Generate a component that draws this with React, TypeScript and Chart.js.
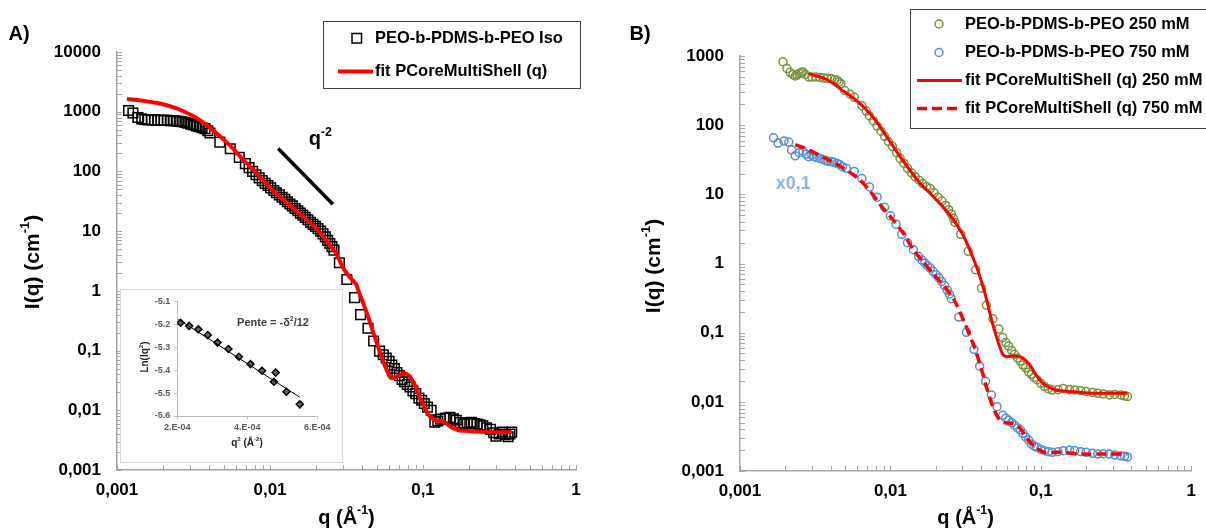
import React, { useEffect, useRef } from 'react';
import { Chart, registerables } from 'chart.js';
Chart.register(...registerables);

const FONT = '"Liberation Sans", Arial, sans-serif';

// ---------- Panel A data ----------
const isoQ = [0.00119, 0.00127, 0.00137, 0.00145, 0.00152, 0.0016, 0.00168, 0.00176, 0.00185, 0.00194, 0.00203, 0.00213, 0.00223, 0.00233, 0.00244, 0.00255, 0.00266, 0.00278, 0.0029, 0.00303, 0.00316, 0.0033, 0.00345, 0.0036, 0.00376, 0.00392, 0.00405, 0.0047, 0.0055, 0.0063, 0.0069, 0.0073, 0.0077, 0.0081, 0.0085, 0.0089, 0.0093, 0.0097, 0.0101, 0.0106, 0.011, 0.0115, 0.012, 0.0125, 0.013, 0.0135, 0.014, 0.0146, 0.0152, 0.0158, 0.0164, 0.017, 0.0177, 0.0184, 0.0191, 0.0198, 0.0206, 0.0214, 0.0222, 0.023, 0.0238, 0.0246, 0.0254, 0.0262, 0.0284, 0.0318, 0.0357, 0.0391, 0.0437, 0.0476, 0.052, 0.055, 0.0575, 0.06, 0.0625, 0.065, 0.0675, 0.07, 0.073, 0.0758, 0.079, 0.0823, 0.086, 0.0897, 0.094, 0.098, 0.102, 0.107, 0.113, 0.1195, 0.125, 0.13, 0.14, 0.15, 0.158, 0.165, 0.175, 0.185, 0.195, 0.207, 0.216, 0.226, 0.236, 0.246, 0.26, 0.276, 0.29, 0.3, 0.315, 0.33, 0.345, 0.36, 0.37, 0.38];
const isoI = [1050, 950, 800, 760, 740, 730, 725, 730, 720, 725, 715, 720, 705, 710, 700, 690, 680, 660, 640, 620, 600, 580, 560, 540, 520, 480, 440, 310, 240, 172, 135, 116, 100, 88, 78, 70, 63, 58, 53, 48, 44, 40.5, 37, 34, 31, 28.5, 26.5, 24, 22, 20, 18.5, 17, 15.5, 14, 13, 12, 11, 10, 9, 8, 7, 6.2, 5.5, 4.8, 2.96, 1.55, 0.77, 0.4, 0.236, 0.145, 0.098, 0.085, 0.075, 0.066, 0.057, 0.05, 0.043, 0.038, 0.033, 0.03, 0.027, 0.0246, 0.021, 0.019, 0.016, 0.0147, 0.013, 0.0113, 0.01, 0.0063, 0.0066, 0.0071, 0.0074, 0.0076, 0.0072, 0.0068, 0.0062, 0.0059, 0.0061, 0.0063, 0.006, 0.0059, 0.0057, 0.0055, 0.0051, 0.0048, 0.0042, 0.0037, 0.004, 0.0043, 0.0039, 0.0036, 0.004, 0.0043];
const fitIsoQ = [0.00116, 0.00135, 0.00154, 0.0018, 0.00206, 0.0024, 0.00274, 0.0031, 0.00346, 0.00385, 0.00423, 0.0047, 0.00518, 0.00566, 0.00616, 0.0067, 0.00731, 0.008, 0.00868, 0.0095, 0.0103, 0.0113, 0.0123, 0.0134, 0.0146, 0.016, 0.0173, 0.019, 0.0206, 0.0222, 0.0238, 0.0253, 0.0268, 0.0284, 0.03, 0.0318, 0.0336, 0.0352, 0.0367, 0.038, 0.0395, 0.0411, 0.043, 0.045, 0.047, 0.049, 0.0512, 0.0536, 0.056, 0.0585, 0.0605, 0.062, 0.065, 0.068, 0.072, 0.0758, 0.079, 0.0823, 0.086, 0.0897, 0.094, 0.098, 0.104, 0.11, 0.117, 0.1235, 0.131, 0.1385, 0.146, 0.155, 0.165, 0.175, 0.2, 0.22, 0.25, 0.29, 0.33, 0.38];
const fitIsoI = [1640, 1570, 1500, 1410, 1310, 1160, 1010, 860, 728, 600, 490, 390, 310, 250, 196, 155, 124, 98, 78, 62, 49.5, 40, 33.4, 27.5, 22.5, 18.5, 15.6, 12.6, 10.2, 8.2, 6.5, 5.3, 4.4, 3.3, 2.43, 1.95, 1.64, 1.45, 1.26, 0.97, 0.75, 0.575, 0.42, 0.3, 0.21, 0.155, 0.11, 0.08, 0.058, 0.0447, 0.037, 0.0345, 0.035, 0.0367, 0.04, 0.0418, 0.04, 0.0367, 0.03, 0.0248, 0.018, 0.0138, 0.0103, 0.0081, 0.0071, 0.0067, 0.0066, 0.0063, 0.0057, 0.0051, 0.0048, 0.0046, 0.0045, 0.0044, 0.00435, 0.0043, 0.0043, 0.0043];
const guideQ = [0.0113, 0.02576];
const guideI = [243, 28.1];
const guideLabelPos = [0.0213, 337];

// ---------- Inset data ----------
const insetQ2 = [2.095e-4, 2.34e-4, 2.6e-4, 2.87e-4, 3.15e-4, 3.46e-4, 3.76e-4, 4.09e-4, 4.42e-4, 4.81e-4, 4.76e-4, 5.12e-4, 5.5e-4];
const insetLn = [-5.192, -5.206, -5.221, -5.246, -5.279, -5.307, -5.341, -5.373, -5.402, -5.41, -5.45, -5.494, -5.549];
const insetFitQ2 = [2.03e-4, 5.5e-4];
const insetFitLn = [-5.177, -5.518];
const insetXTicks = [2e-4, 4e-4, 6e-4];
const insetXLabels = ['2.E-04', '4.E-04', '6.E-04'];
const insetYTicks = [-5.6, -5.5, -5.4, -5.3, -5.2, -5.1];
const insetYLabels = ['-5.6', '-5.5', '-5.4', '-5.3', '-5.2', '-5.1'];

// ---------- Panel B data ----------
const q250 = [0.00193, 0.00205, 0.00215, 0.00225, 0.00233, 0.0024, 0.00247, 0.00255, 0.00262, 0.00272, 0.00286, 0.003, 0.0032, 0.0034, 0.0036, 0.0038, 0.00405, 0.00425, 0.00442, 0.00455, 0.00468, 0.00497, 0.0054, 0.00575, 0.00646, 0.0069, 0.00725, 0.0077, 0.00815, 0.00865, 0.00915, 0.0097, 0.0103, 0.011, 0.0116, 0.0123, 0.013, 0.0138, 0.0146, 0.0155, 0.0164, 0.0174, 0.0184, 0.0195, 0.0207, 0.022, 0.0233, 0.0244, 0.0254, 0.0262, 0.0269, 0.0293, 0.0329, 0.0369, 0.0403, 0.0435, 0.048, 0.0526, 0.0558, 0.0585, 0.061, 0.064, 0.0667, 0.07, 0.073, 0.076, 0.0793, 0.083, 0.0865, 0.09, 0.0943, 0.1, 0.106, 0.112, 0.119, 0.13, 0.141, 0.155, 0.168, 0.184, 0.2, 0.22, 0.239, 0.26, 0.285, 0.31, 0.34, 0.36, 0.376];
const i250 = [826, 660, 580, 540, 514, 530, 557, 575, 589, 540, 498, 495, 498, 490, 480, 475, 470, 455, 445, 420, 398, 317, 280, 253, 191, 160, 136, 115, 97, 82, 69, 58, 49.5, 40, 33, 28, 23.8, 20.5, 18, 16, 14.3, 13, 12.1, 10.5, 9.1, 8, 6.9, 6, 5.2, 4.5, 3.93, 2.64, 1.5, 0.81, 0.44, 0.249, 0.159, 0.113, 0.085, 0.072, 0.064, 0.055, 0.0487, 0.043, 0.0389, 0.034, 0.031, 0.027, 0.0248, 0.0225, 0.0209, 0.0185, 0.0166, 0.0155, 0.0148, 0.015, 0.0156, 0.015, 0.0148, 0.0145, 0.0141, 0.0137, 0.0133, 0.013, 0.0126, 0.0128, 0.0126, 0.0122, 0.0119];
const q750 = [0.00167, 0.00179, 0.00196, 0.00211, 0.0022, 0.00233, 0.00247, 0.00262, 0.00275, 0.00286, 0.003, 0.00311, 0.00325, 0.0034, 0.00355, 0.0037, 0.00385, 0.00405, 0.0042, 0.00442, 0.0046, 0.0048, 0.0051, 0.00575, 0.00646, 0.00725, 0.00815, 0.00915, 0.01, 0.0109, 0.0119, 0.013, 0.0142, 0.0154, 0.0162, 0.0169, 0.0176, 0.0184, 0.0192, 0.0201, 0.021, 0.0219, 0.0229, 0.0239, 0.0247, 0.0254, 0.0285, 0.032, 0.0359, 0.0392, 0.0429, 0.0469, 0.0511, 0.0558, 0.0585, 0.061, 0.064, 0.0667, 0.07, 0.073, 0.076, 0.0793, 0.083, 0.0865, 0.09, 0.0943, 0.1, 0.106, 0.112, 0.119, 0.13, 0.141, 0.155, 0.168, 0.184, 0.2, 0.22, 0.239, 0.26, 0.285, 0.31, 0.34, 0.36, 0.376];
const i750 = [65.6, 55, 59, 57, 44, 36, 40, 42, 38, 35, 37, 35, 34, 33, 32, 31, 30, 29.8, 29, 28, 27, 25, 23.8, 21.4, 17, 12.8, 9.1, 6.5, 4.9, 3.7, 2.64, 2, 1.58, 1.27, 1.12, 1.02, 0.93, 0.86, 0.77, 0.69, 0.62, 0.55, 0.48, 0.41, 0.36, 0.31, 0.168, 0.101, 0.0575, 0.0328, 0.0198, 0.0126, 0.0085, 0.0064, 0.0058, 0.0054, 0.005, 0.0046, 0.0042, 0.0039, 0.0035, 0.0031, 0.0028, 0.00246, 0.0023, 0.0022, 0.00205, 0.00197, 0.0019, 0.00186, 0.0019, 0.00197, 0.002, 0.00197, 0.0019, 0.00186, 0.0018, 0.00176, 0.00178, 0.00176, 0.0017, 0.00166, 0.00163, 0.0016];
const fit250Q = [0.00286, 0.0032, 0.0036, 0.00405, 0.0048, 0.00575, 0.00685, 0.00815, 0.00973, 0.0116, 0.013, 0.0154, 0.0184, 0.0219, 0.026, 0.0302, 0.034, 0.0383, 0.0428, 0.0468, 0.0512, 0.0558, 0.0591, 0.0667, 0.075, 0.084, 0.0943, 0.106, 0.126, 0.159, 0.212, 0.285, 0.376];
const fit250I = [557, 515, 480, 420, 317, 240, 171, 109, 62, 35, 25, 15.2, 10.3, 6.9, 4.4, 2.64, 1.5, 0.77, 0.35, 0.159, 0.081, 0.0487, 0.045, 0.046, 0.0436, 0.0347, 0.0234, 0.0177, 0.0148, 0.0141, 0.0133, 0.0133, 0.0133];
const fit750Q = [0.00233, 0.00286, 0.0035, 0.0043, 0.0051, 0.0061, 0.00725, 0.00863, 0.0103, 0.0123, 0.0142, 0.0164, 0.0195, 0.0233, 0.0269, 0.031, 0.0359, 0.0403, 0.044, 0.048, 0.0526, 0.0575, 0.0646, 0.073, 0.0816, 0.0916, 0.106, 0.133, 0.19, 0.27, 0.376];
const fit750I = [52.5, 44, 35, 28, 22.4, 17, 11.4, 6.9, 4.4, 2.64, 1.58, 1.08, 0.69, 0.44, 0.28, 0.141, 0.0645, 0.0295, 0.0149, 0.0085, 0.0057, 0.005, 0.0049, 0.0041, 0.0029, 0.0022, 0.00186, 0.00186, 0.00176, 0.00176, 0.00176];
const scaleLabelPos = [0.00226, 14.3];

// ---------- Ticks / text ----------
const xTicks = [0.001, 0.01, 0.1, 1];
const xLabels = ['0,001', '0,01', '0,1', '1'];
const yTicksA = [0.001, 0.01, 0.1, 1, 10, 100, 1000, 10000];
const yLabelsA = ['0,001', '0,01', '0,1', '1', '10', '100', '1000', '10000'];
const yTicksB = [0.001, 0.01, 0.1, 1, 10, 100, 1000];
const yLabelsB = ['0,001', '0,01', '0,1', '1', '10', '100', '1000'];
const legendA = ['PEO-b-PDMS-b-PEO Iso', 'fit PCoreMultiShell (q)'];
const legendB = ['PEO-b-PDMS-b-PEO 250 mM', 'PEO-b-PDMS-b-PEO 750 mM', 'fit PCoreMultiShell (q) 250 mM', 'fit PCoreMultiShell (q) 750 mM'];

type Seg = { t: string; sup?: boolean };
const yTitle: Seg[] = [{ t: 'I(q) (cm' }, { t: '-1', sup: true }, { t: ')' }];
const xTitle: Seg[] = [{ t: 'q (Å' }, { t: '-1', sup: true }, { t: ')' }];
const guideText: Seg[] = [{ t: 'q' }, { t: '-2', sup: true }];
const insetXTitle: Seg[] = [{ t: 'q' }, { t: '2', sup: true }, { t: ' (Å' }, { t: '-2', sup: true }, { t: ')' }];
const insetYTitle: Seg[] = [{ t: 'Ln(Iq' }, { t: '2', sup: true }, { t: ')' }];
const insetNote: Seg[] = [{ t: 'Pente = -δ' }, { t: '2', sup: true }, { t: '/12' }];

const RED = '#FF0000';
const GREEN = '#77933C';
const BLUE = '#558ED5';
const AXIS = '#a6a6a6';
const LEG = 16.5;

const pts = (xs: number[], ys: number[]) => xs.map((x, i) => ({ x, y: ys[i] }));

function drawRich(ctx: CanvasRenderingContext2D, segs: Seg[], x: number, y: number, size: number, color: string, rotate = false, align: 'center' | 'left' = 'center') {
  ctx.save();
  ctx.translate(x, y);
  if (rotate) ctx.rotate(-Math.PI / 2);
  ctx.fillStyle = color;
  ctx.textBaseline = 'middle';
  ctx.textAlign = 'left';
  const supSize = size * 0.62;
  const widths = segs.map((s) => {
    ctx.font = `bold ${s.sup ? supSize : size}px ${FONT}`;
    return ctx.measureText(s.t).width;
  });
  const total = widths.reduce((a, b) => a + b, 0);
  let cx = align === 'center' ? -total / 2 : 0;
  segs.forEach((s, i) => {
    ctx.font = `bold ${s.sup ? supSize : size}px ${FONT}`;
    ctx.fillText(s.t, cx, s.sup ? -size * 0.36 : 0);
    cx += widths[i];
  });
  ctx.restore();
}

function drawLogTicks(chart: any) {
  const ctx = chart.ctx;
  const a = chart.chartArea;
  ctx.save();
  ctx.strokeStyle = AXIS;
  ctx.lineWidth = 1;
  ['x', 'y'].forEach((id) => {
    const sc = chart.scales[id];
    const lo = Math.round(Math.log10(sc.min));
    const hi = Math.round(Math.log10(sc.max));
    for (let e = lo; e <= hi; e++) {
      for (let k = 1; k <= 9; k++) {
        if (e === hi && k > 1) break;
        const p = Math.round(sc.getPixelForValue(k * Math.pow(10, e))) + 0.5;
        ctx.beginPath();
        if (id === 'x') {
          ctx.moveTo(p, a.bottom);
          ctx.lineTo(p, a.bottom - 5);
        } else {
          ctx.moveTo(a.left, p);
          ctx.lineTo(a.left + 5, p);
        }
        ctx.stroke();
      }
    }
  });
  ctx.restore();
}

function logAxis(min: number, max: number, ticks: number[], labels: string[], isX: boolean, size: number) {
  return {
    type: 'logarithmic',
    min,
    max,
    position: isX ? 'bottom' : 'left',
    grid: { display: false, drawTicks: false },
    border: { display: true, color: AXIS, width: 1.5 },
    ticks: {
      autoSkip: false,
      maxRotation: 0,
      padding: isX ? 10 : 16,
      color: '#000',
      font: { family: FONT, size: 17, weight: 'bold' },
      callback: (_v: any, i: number) => labels[i],
    },
    afterBuildTicks: (s: any) => {
      s.ticks = ticks.map((v) => ({ value: v }));
    },
    afterFit: (s: any) => {
      if (isX) s.height = size;
      else s.width = size;
    },
  };
}

function makeA(canvas: HTMLCanvasElement) {
  const deco = {
    id: 'decoA',
    afterDraw(chart: any) {
      const ctx = chart.ctx;
      drawLogTicks(chart);
      const a = chart.chartArea;
      const xs = chart.scales.x;
      const ys = chart.scales.y;
      drawRich(ctx, yTitle, 33, 262, 21, '#000', true);
      drawRich(ctx, xTitle, (a.left + a.right) / 2, 518, 20, '#000');
      drawRich(ctx, [{ t: 'A)' }], 19, 34, 20, '#000');
      drawRich(ctx, guideText, xs.getPixelForValue(guideLabelPos[0]), ys.getPixelForValue(guideLabelPos[1]), 20, '#000');
      // legend
      ctx.save();
      ctx.strokeStyle = '#404040';
      ctx.lineWidth = 1;
      ctx.strokeRect(323.5, 21.5, 257, 67);
      ctx.strokeStyle = '#000';
      ctx.lineWidth = 1.5;
      ctx.strokeRect(352, 33.5, 9.5, 9.5);
      ctx.strokeStyle = RED;
      ctx.lineWidth = 4;
      ctx.beginPath();
      ctx.moveTo(338, 71.5);
      ctx.lineTo(373, 71.5);
      ctx.stroke();
      ctx.restore();
      drawRich(ctx, [{ t: legendA[0] }], 375, 38.5, LEG, '#000', false, 'left');
      drawRich(ctx, [{ t: legendA[1] }], 375, 71.5, LEG, '#000', false, 'left');
    },
  };
  return new Chart(canvas, {
    type: 'scatter',
    data: {
      datasets: [
        { data: pts(guideQ, guideI), showLine: true, borderColor: '#000', borderWidth: 3.5, pointRadius: 0, order: 0 },
        { data: pts(fitIsoQ, fitIsoI), showLine: true, borderColor: RED, borderWidth: 4, pointRadius: 0, tension: 0.3, order: 1 },
        { data: pts(isoQ, isoI), pointStyle: 'rect', pointRadius: 6.8, borderColor: '#000', backgroundColor: 'rgba(0,0,0,0)', borderWidth: 1.5, order: 2 },
      ],
    },
    options: {
      animation: false,
      responsive: false,
      events: [],
      layout: { padding: { left: 0, top: 52, right: 24, bottom: 0 } },
      plugins: { legend: { display: false }, tooltip: { enabled: false } },
      scales: {
        x: logAxis(0.001, 1, xTicks, xLabels, true, 61),
        y: logAxis(0.001, 10000, yTicksA, yLabelsA, false, 117),
      },
    } as any,
    plugins: [deco],
  } as any);
}

function makeB(canvas: HTMLCanvasElement) {
  const deco = {
    id: 'decoB',
    afterDraw(chart: any) {
      const ctx = chart.ctx;
      drawLogTicks(chart);
      const a = chart.chartArea;
      const xs = chart.scales.x;
      const ys = chart.scales.y;
      drawRich(ctx, yTitle, 54, 266, 21, '#000', true);
      drawRich(ctx, xTitle, (a.left + a.right) / 2, 518, 20, '#000');
      drawRich(ctx, [{ t: 'B)' }], 40, 34, 20, '#000');
      drawRich(ctx, [{ t: 'x0,1' }], xs.getPixelForValue(scaleLabelPos[0]), ys.getPixelForValue(scaleLabelPos[1]), 18, '#8DB4E2');
      ctx.save();
      ctx.strokeStyle = '#404040';
      ctx.lineWidth = 1;
      ctx.strokeRect(310.5, 9.5, 320, 119);
      ctx.lineWidth = 1.5;
      ctx.strokeStyle = GREEN;
      ctx.beginPath();
      ctx.arc(339, 24, 4, 0, Math.PI * 2);
      ctx.stroke();
      ctx.strokeStyle = BLUE;
      ctx.beginPath();
      ctx.arc(339, 52.5, 4, 0, Math.PI * 2);
      ctx.stroke();
      ctx.strokeStyle = RED;
      ctx.lineWidth = 3;
      ctx.beginPath();
      ctx.moveTo(317, 80.5);
      ctx.lineTo(362, 80.5);
      ctx.stroke();
      ctx.lineWidth = 3.5;
      ctx.setLineDash([10, 5]);
      ctx.beginPath();
      ctx.moveTo(317, 108.5);
      ctx.lineTo(362, 108.5);
      ctx.stroke();
      ctx.restore();
      const ys2 = [24, 52.5, 80.5, 108.5];
      legendB.forEach((t, i) => drawRich(ctx, [{ t }], 365, ys2[i], LEG, '#000', false, 'left'));
    },
  };
  return new Chart(canvas, {
    type: 'scatter',
    data: {
      datasets: [
        { data: pts(fit250Q, fit250I), showLine: true, borderColor: RED, borderWidth: 3, pointRadius: 0, tension: 0.3, order: 0 },
        { data: pts(fit750Q, fit750I), showLine: true, borderColor: RED, borderWidth: 3.5, borderDash: [10, 5], pointRadius: 0, tension: 0.3, order: 1 },
        { data: pts(q250, i250), pointStyle: 'circle', pointRadius: 4, borderColor: GREEN, backgroundColor: 'rgba(0,0,0,0)', borderWidth: 1.5, order: 2 },
        { data: pts(q750, i750), pointStyle: 'circle', pointRadius: 4, borderColor: BLUE, backgroundColor: 'rgba(0,0,0,0)', borderWidth: 1.5, order: 3 },
      ],
    },
    options: {
      animation: false,
      responsive: false,
      events: [],
      layout: { padding: { left: 0, top: 56, right: 8, bottom: 0 } },
      plugins: { legend: { display: false }, tooltip: { enabled: false } },
      scales: {
        x: logAxis(0.001, 1, xTicks, xLabels, true, 60),
        y: logAxis(0.001, 1000, yTicksB, yLabelsB, false, 140),
      },
    } as any,
    plugins: [deco],
  } as any);
}

function makeInset(canvas: HTMLCanvasElement) {
  const deco = {
    id: 'decoInset',
    afterDraw(chart: any) {
      const ctx = chart.ctx;
      drawRich(ctx, insetYTitle, 24, 67, 10, '#262626', true);
      drawRich(ctx, insetXTitle, 126, 153, 10, '#262626');
      drawRich(ctx, insetNote, 152, 33, 11, '#404040');
    },
  };
  const lin = (min: number, max: number, ticks: number[], labels: string[], isX: boolean, size: number) => ({
    type: 'linear',
    min,
    max,
    position: isX ? 'bottom' : 'left',
    grid: { display: true, drawOnChartArea: false, drawTicks: true, tickLength: 3, color: '#bfbfbf' },
    border: { display: true, color: '#bfbfbf', width: 1 },
    ticks: {
      autoSkip: false,
      maxRotation: 0,
      padding: isX ? 3 : 4,
      color: '#595959',
      font: { family: FONT, size: 9, weight: 'bold' },
      callback: (_v: any, i: number) => labels[i],
    },
    afterBuildTicks: (s: any) => {
      s.ticks = ticks.map((v) => ({ value: v }));
    },
    afterFit: (s: any) => {
      if (isX) s.height = size;
      else s.width = size;
    },
  });
  return new Chart(canvas, {
    type: 'scatter',
    data: {
      datasets: [
        { data: pts(insetFitQ2, insetFitLn), showLine: true, borderColor: '#000', borderWidth: 1, pointRadius: 0, order: 0 },
        { data: pts(insetQ2, insetLn), pointStyle: 'rectRot', pointRadius: 3.5, borderColor: '#000', backgroundColor: '#666', borderWidth: 1.5, order: 1 },
      ],
    },
    options: {
      animation: false,
      responsive: false,
      events: [],
      layout: { padding: { left: 0, top: 11.7, right: 24.7, bottom: 0 } },
      plugins: { legend: { display: false }, tooltip: { enabled: false } },
      scales: {
        x: lin(2e-4, 6e-4, insetXTicks, insetXLabels, true, 46),
        y: lin(-5.6, -5.1, insetYTicks, insetYLabels, false, 56.3),
      },
    } as any,
    plugins: [deco],
  } as any);
}

export default function App() {
  const refA = useRef<HTMLCanvasElement>(null);
  const refB = useRef<HTMLCanvasElement>(null);
  const refI = useRef<HTMLCanvasElement>(null);
  useEffect(() => {
    const ca = makeA(refA.current!);
    const cb = makeB(refB.current!);
    const ci = makeInset(refI.current!);
    return () => {
      ca.destroy();
      cb.destroy();
      ci.destroy();
    };
  }, []);
  return (
    <div style={{ position: 'absolute', left: 0, top: 0, width: 1206, height: 531, background: '#fff', overflow: 'hidden' }}>
      <canvas ref={refA} width={600} height={531} style={{ position: 'absolute', left: 0, top: 0, width: 600, height: 531 }} />
      <canvas ref={refB} width={606} height={531} style={{ position: 'absolute', left: 600, top: 0, width: 606, height: 531 }} />
      <div style={{ position: 'absolute', left: 120, top: 289, width: 221, height: 172, border: '1px solid #d9d9d9', background: '#fff' }}>
        <canvas ref={refI} width={221} height={172} style={{ display: 'block', width: 221, height: 172 }} />
      </div>
    </div>
  );
}
